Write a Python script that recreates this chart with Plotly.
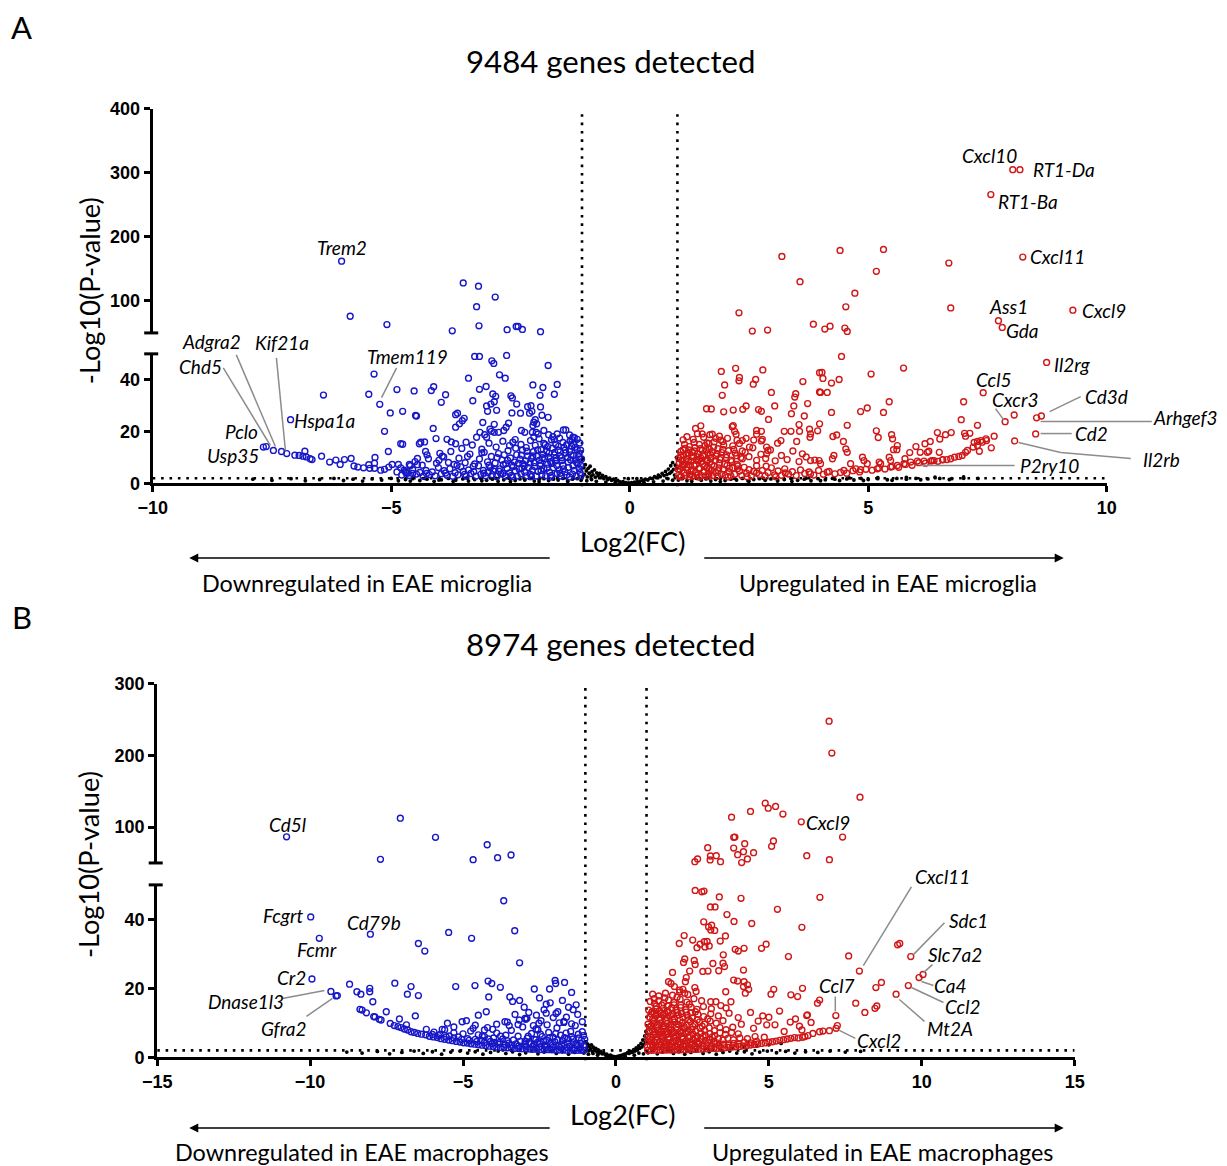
import plotly.graph_objects as go

# Layout positions below are given in pixels of the displayed page
# (1227x1166 view, which also holds the body margin around the figure).
VIEW_W, VIEW_H = 1227, 1166
PAD = 8
W, H = VIEW_W, VIEW_H
SX = (VIEW_W + 2 * PAD) / VIEW_W / 0.9908
SY = (VIEW_H + 2 * PAD) / VIEW_H
X_SHIFT = 8.2


def px(v):
    return ((v - X_SHIFT) * SX - PAD) / W


def py(v):
    return 1 - (v * SY - PAD) / H


BLUE = "#1717c8"
RED = "#d01616"
GREY = "#8c8c8c"
TXT = "Lato, 'Open Sans', sans-serif"
NUM = "'Liberation Sans', Arial, sans-serif"

# ---------------- Panel A: microglia (log2FC, -log10 p) ----------------
A_DOWN_UPPER = [(-6.04, 162), (-5.86, 76), (-5.09, 63), (-3.49, 128), (-3.17, 123), (-2.82, 106),
                (-3.21, 91), (-3.16, 61), (-3.72, 53.3), (-2.57, 55), (-2.38, 60), (-2.34, 60),
                (-2.25, 55.5), (-1.87, 52)]
A_DOWN_SPARSE = [(-5.36, 42.2), (-6.42, 34.1), (-5.47, 34.4), (-4.88, 36.2), (-4.52, 35.7), (-5.24, 30.5),
                 (-5.02, 27.2), (-4.76, 27.8), (-4.47, 26.0), (-7.11, 24.6), (-5.14, 20.1), (-4.76, 15.1),
                 (-4.41, 15.3), (-5.06, 12.3), (-5.34, 10.0), (-3.25, 49.0), (-3.15, 49.0), (-2.58, 49.4),
                 (-2.89, 47.3), (-2.85, 46.3), (-1.71, 45.5), (-2.73, 41.9), (-2.61, 40.6), (-3.38, 40.6),
                 (-4.16, 35.8), (-4.11, 37.3), (-3.86, 34.2), (-3.95, 31.3), (-3.01, 37.4), (-3.15, 36.3),
                 (-2.03, 38.0), (-1.82, 37.0), (-1.52, 38.2), (-1.58, 34.4), (-1.88, 34.0), (-2.49, 33.8),
                 (-2.46, 33.0), (-3.29, 31.9), (-2.87, 34.5), (-2.81, 33.6), (-2.84, 31.5), (-2.91, 30.6),
                 (-3.00, 29.9), (-2.37, 30.6), (-2.14, 29.6), (-2.07, 30.0), (-1.87, 29.5), (-2.98, 27.8),
                 (-2.79, 28.2), (-2.47, 27.2), (-2.29, 27.1), (-2.10, 27.1), (-2.05, 27.8), (-4.49, 26.2),
                 (-3.65, 26.5), (-3.61, 27.1), (-3.47, 25.1), (-3.51, 24.2), (-3.57, 23.0), (-3.65, 21.7),
                 (-1.84, 26.3), (-1.71, 25.5), (-1.98, 24.6), (-2.01, 23.6), (-1.95, 23.0), (-2.03, 22.3),
                 (-3.08, 23.5), (-2.84, 22.8), (-2.54, 23.2), (-2.59, 21.7), (-4.12, 21.2), (-4.06, 17.3),
                 (-2.93, 20.9), (-2.90, 20.1), (-2.84, 19.7), (-2.75, 19.7), (-2.64, 20.4), (-3.14, 19.7),
                 (-3.04, 18.8), (-3.00, 17.8), (-3.21, 17.8), (-2.27, 20.4), (-2.20, 19.7), (-2.04, 19.7),
                 (-1.96, 19.7), (-1.92, 19.1), (-1.80, 20.4), (-1.70, 18.8), (-1.58, 16.9), (-1.52, 19.1),
                 (-1.39, 20.6), (-1.34, 20.6), (-1.26, 18.7), (-1.19, 17.8), (-1.16, 17.6), (-4.38, 15.9),
                 (-4.30, 16.0), (-3.83, 17.0), (-3.74, 16.0), (-3.65, 15.3), (-3.43, 15.9), (-4.28, 12.3),
                 (-3.98, 11.6), (-3.93, 10.5), (-4.80, 15.3)]
A_DOWN_EDGE = [(-7.68, 14.0), (-7.62, 14.2), (-7.47, 12.7), (-7.30, 12.3), (-7.19, 11.5), (-7.02, 10.9),
               (-6.93, 10.8), (-6.85, 10.5), (-6.78, 10.2), (-6.81, 12.4), (-6.70, 9.5), (-6.66, 9.2),
               (-6.46, 10.5), (-6.29, 8.2), (-6.16, 9.0), (-6.07, 7.3), (-5.98, 9.2), (-5.84, 9.6),
               (-5.78, 6.7), (-5.70, 6.3), (-5.58, 6.0), (-5.47, 7.2), (-5.35, 7.8), (-5.45, 5.8),
               (-5.35, 5.8), (-5.22, 5.1), (-5.14, 5.4), (-5.05, 6.3), (-4.98, 7.3), (-4.85, 7.3),
               (-4.80, 6.0), (-4.88, 4.4), (-4.73, 5.1), (-4.62, 7.3), (-4.45, 7.2), (-4.69, 4.1),
               (-4.55, 3.8)]
A_DOWN_DENSE = [(-4.78, 3.2), (-4.70, 4.6), (-4.62, 3.0), (-4.55, 5.3), (-4.47, 3.6), (-4.40, 4.2),
                (-4.33, 2.8), (-4.27, 5.0), (-4.20, 3.4), (-4.14, 4.4), (-4.08, 2.9), (-4.01, 6.1),
                (-3.95, 3.7), (-3.89, 4.9), (-3.83, 3.1), (-3.77, 5.6), (-3.71, 2.7), (-3.66, 4.1),
                (-3.60, 3.3), (-3.54, 6.4), (-3.49, 4.6), (-3.43, 2.9), (-3.38, 5.2), (-3.33, 3.8),
                (-3.27, 4.5), (-3.22, 2.8), (-3.17, 6.8), (-3.12, 3.5), (-3.07, 5.0), (-3.02, 2.9),
                (-2.97, 4.2), (-2.92, 6.0), (-2.88, 3.3), (-2.83, 5.4), (-2.79, 2.8), (-2.74, 4.7),
                (-2.70, 3.6), (-2.65, 7.2), (-2.61, 2.9), (-2.57, 5.8), (-2.52, 4.0), (-2.48, 3.1),
                (-2.44, 6.5), (-2.40, 4.8), (-2.36, 2.8), (-2.32, 5.5), (-2.28, 3.7), (-2.24, 7.6),
                (-2.20, 4.3), (-2.16, 2.9), (-2.12, 6.1), (-2.08, 3.5), (-2.04, 5.1), (-2.00, 8.0),
                (-1.96, 2.8), (-1.92, 4.6), (-1.88, 6.8), (-1.84, 3.4), (-1.80, 5.6), (-1.76, 2.9),
                (-1.72, 7.4), (-1.68, 4.2), (-1.64, 3.1), (-1.60, 6.0), (-1.56, 8.6), (-1.52, 3.8),
                (-1.48, 5.2), (-1.44, 2.8), (-1.40, 7.0), (-1.36, 4.4), (-1.32, 3.2), (-1.28, 6.2),
                (-1.24, 9.1), (-1.20, 3.6), (-1.16, 5.0), (-1.12, 2.8), (-1.08, 7.7), (-1.04, 4.1),
                (-1.02, 3.0), (-4.50, 8.4), (-4.35, 7.0), (-4.22, 9.5), (-4.05, 7.8), (-3.90, 10.2),
                (-3.80, 8.1), (-3.68, 7.3), (-3.58, 9.7), (-3.45, 8.0), (-3.35, 11.3), (-3.25, 7.5),
                (-3.15, 9.4), (-3.05, 12.0), (-2.98, 8.3), (-2.90, 10.4), (-2.82, 7.9), (-2.75, 11.5),
                (-2.68, 9.0), (-2.60, 7.6), (-2.55, 12.6), (-2.50, 9.8), (-2.42, 8.2), (-2.37, 11.0),
                (-2.30, 9.3), (-2.25, 12.9), (-2.18, 8.7), (-2.14, 10.6), (-2.06, 9.6), (-2.02, 12.2),
                (-1.95, 10.5), (-1.90, 8.9), (-1.86, 13.0), (-1.82, 11.2), (-1.78, 9.6), (-1.74, 12.4),
                (-1.70, 10.1), (-1.66, 8.4), (-1.62, 13.6), (-1.58, 11.0), (-1.54, 9.9), (-1.50, 12.8),
                (-1.46, 10.6), (-1.42, 8.8), (-1.38, 13.9), (-1.34, 11.7), (-1.30, 10.0), (-1.26, 12.3),
                (-1.22, 14.4), (-1.18, 10.8), (-1.14, 9.1), (-1.10, 13.0), (-1.06, 11.5), (-1.03, 12.8),
                (-3.52, 13.5), (-3.30, 14.8), (-3.10, 13.2), (-2.95, 15.5), (-2.80, 14.0), (-2.66, 16.3),
                (-2.52, 14.6), (-2.40, 16.9), (-2.28, 15.0), (-2.17, 13.8), (-2.08, 16.5), (-1.98, 14.7),
                (-1.90, 17.2), (-1.80, 15.4), (-1.72, 14.2), (-1.64, 16.8), (-1.55, 15.0), (-1.47, 17.5),
                (-1.40, 15.8), (-1.32, 14.9), (-1.25, 16.4), (-1.18, 15.1), (-1.10, 17.0), (-1.05, 15.6),
                (-4.60, 6.8), (-4.45, 9.6), (-4.25, 11.0), (-4.00, 8.9), (-3.75, 12.3), (-3.62, 6.9),
                (-3.40, 10.4), (-3.28, 6.6), (-3.10, 11.8), (-2.95, 7.0), (-2.46, 2.6), (-2.26, 5.9),
                (-2.06, 2.6), (-1.86, 5.0), (-1.66, 2.5), (-1.46, 3.9), (-1.26, 2.5), (-1.06, 5.6),
                (-2.66, 3.8), (-2.86, 4.8), (-3.06, 3.9), (-3.46, 3.5), (-3.86, 4.0), (-4.26, 3.8),
                (-4.66, 3.9), (-2.78, 9.9), (-2.72, 5.6), (-2.63, 11.0), (-2.56, 8.9), (-2.47, 7.0),
                (-2.39, 13.6), (-2.33, 7.8), (-2.27, 10.9), (-2.21, 6.8), (-2.15, 12.4), (-2.09, 7.9),
                (-2.03, 10.6), (-1.99, 6.5), (-1.93, 12.9), (-1.87, 7.7), (-1.83, 9.9), (-1.77, 14.9),
                (-1.73, 5.9), (-1.69, 11.7), (-1.63, 7.7), (-1.57, 12.0), (-1.53, 6.9), (-1.49, 14.3),
                (-1.43, 9.9), (-1.39, 5.6), (-1.35, 12.9), (-1.29, 8.2), (-1.23, 11.0), (-1.19, 6.8),
                (-1.15, 13.9), (-1.11, 8.0), (-1.07, 10.3), (-1.03, 7.0), (-1.01, 9.4), (-1.21, 16.9),
                (-1.61, 18.0), (-2.01, 17.9), (-2.45, 15.9)]

A_UP_UPPER = [(3.19, 169.5), (3.57, 130), (2.29, 81.3), (3.85, 63.7), (2.57, 52.9), (2.89, 54.4),
              (8.03, 304.8), (8.18, 304.8), (7.57, 266), (8.24, 168.4), (7.73, 69), (7.81, 58.5),
              (9.29, 85.5), (4.41, 178.8), (5.32, 180.4), (5.17, 146.1), (4.72, 112), (4.53, 90.7),
              (6.69, 159), (6.73, 89), (4.09, 56), (4.20, 60.6), (4.51, 57.5), (4.56, 52.3)]
A_UP_SPARSE = [(1.92, 43.2), (2.22, 44.4), (2.30, 40.9), (2.29, 39.6), (2.79, 43.8), (2.64, 40.1),
               (2.59, 38.3), (1.99, 38.0), (1.94, 34.0), (2.97, 35.1), (3.63, 39.3), (3.48, 34.6),
               (3.46, 33.3), (3.44, 29.9), (3.98, 42.7), (3.98, 35.3), (3.04, 29.9), (3.73, 30.8),
               (1.61, 28.8), (1.71, 28.7), (1.97, 27.6), (2.17, 28.3), (2.37, 28.6), (2.44, 29.9),
               (2.70, 28.5), (2.76, 27.8), (2.91, 24.7), (3.39, 26.9), (3.66, 26.0), (3.55, 22.7),
               (3.77, 20.9), (3.79, 19.1), (3.62, 11.4), (3.78, 17.8), (3.94, 20.3), (3.98, 23.0),
               (3.24, 20.1), (3.38, 20.1), (3.56, 20.1), (3.50, 16.2), (3.17, 16.5), (3.10, 15.5),
               (2.87, 14.0), (2.90, 12.7), (2.87, 11.4), (2.76, 20.1), (2.66, 20.4), (2.66, 19.0),
               (2.60, 16.7), (2.76, 16.4), (2.78, 17.0), (2.44, 17.4), (2.23, 19.0), (2.16, 14.5),
               (2.36, 16.5), (2.51, 14.0), (2.36, 12.5), (2.15, 21.9), (2.17, 22.3), (2.20, 20.1),
               (1.38, 21.2), (1.49, 22.2), (1.52, 19.1), (1.73, 19.0), (1.80, 17.4), (1.91, 16.7),
               (1.66, 15.4), (8.74, 46.7), (7.41, 35.0), (4.44, 49.0), (5.74, 44.5), (5.06, 42.2),
               (4.03, 42.8), (4.05, 40.5), (4.23, 38.7), (4.39, 40.1), (4.00, 35.1), (4.14, 35.1),
               (7.00, 31.5), (7.87, 23.8), (8.06, 26.4), (8.53, 25.3), (8.63, 26.0), (8.51, 19.1),
               (8.07, 16.4), (4.23, 27.4), (4.84, 27.7), (4.98, 29.1), (5.32, 27.4), (5.44, 31.5),
               (6.95, 24.6), (4.56, 22.4), (7.29, 22.4), (4.26, 18.1), (4.34, 18.7), (4.48, 16.2),
               (5.17, 20.3), (5.21, 17.7), (5.49, 18.8), (5.51, 17.2), (6.45, 19.6), (6.62, 18.8),
               (6.74, 19.6), (7.02, 19.3), (7.13, 19.3), (7.04, 18.2), (7.64, 18.2), (7.47, 17.2),
               (7.36, 16.5), (7.29, 16.2), (7.22, 15.8), (7.58, 13.7), (7.33, 12.4), (6.00, 14.2),
               (6.19, 15.3), (6.30, 16.2), (6.50, 17.1), (5.61, 14.6), (5.53, 13.0), (5.60, 13.0),
               (5.87, 11.9), (5.77, 9.5), (6.09, 12.0), (6.24, 12.0), (6.27, 12.4), (6.49, 12.0),
               (6.56, 9.2), (6.65, 9.2), (6.73, 9.5), (6.81, 10.1), (6.90, 10.4), (6.97, 10.8),
               (7.04, 12.0), (7.08, 12.7), (7.20, 14.0), (7.29, 14.6), (7.39, 15.9), (7.48, 16.5),
               (5.47, 6.3), (5.61, 6.9), (5.75, 7.6), (5.89, 8.2), (6.03, 8.6), (6.17, 8.6),
               (6.31, 8.6), (6.38, 8.8), (6.56, 9.1), (4.49, 5.0), (4.84, 5.3), (5.19, 5.6),
               (3.79, 3.7), (4.14, 4.3), (3.79, 8.8), (3.97, 8.8), (4.00, 7.6), (4.25, 9.5),
               (4.28, 10.8), (4.53, 13.3), (4.56, 12.0), (4.63, 7.6), (4.88, 10.1), (4.91, 8.8),
               (5.23, 8.2), (5.26, 7.6), (5.44, 10.1), (5.47, 8.8), (4.98, 7.6), (4.74, 5.6)]
A_UP_DENSE = [(1.02, 3.0), (1.05, 5.4), (1.08, 2.8), (1.11, 7.1), (1.14, 4.0), (1.17, 3.1), (1.20, 6.2),
              (1.23, 8.5), (1.26, 3.5), (1.29, 5.0), (1.32, 2.8), (1.35, 6.8), (1.38, 4.3), (1.41, 3.2),
              (1.44, 9.0), (1.47, 5.7), (1.50, 3.0), (1.53, 7.4), (1.56, 4.6), (1.59, 2.9), (1.62, 6.0),
              (1.65, 3.8), (1.68, 8.2), (1.71, 5.1), (1.74, 3.0), (1.77, 6.6), (1.80, 4.2), (1.84, 2.8),
              (1.88, 7.8), (1.92, 3.6), (1.96, 5.5), (2.00, 3.0), (2.04, 6.9), (2.08, 4.4), (2.12, 2.9),
              (2.16, 5.9), (2.20, 3.5), (2.25, 7.3), (2.30, 4.8), (2.35, 3.0), (2.40, 6.2), (2.45, 3.9),
              (2.50, 5.3), (2.55, 2.9), (2.60, 4.6), (2.66, 6.8), (2.72, 3.4), (2.78, 5.0), (2.84, 3.0),
              (2.90, 4.2), (2.97, 6.0), (3.04, 3.3), (3.11, 4.8), (3.18, 3.1), (3.25, 5.6), (3.33, 3.6),
              (3.41, 4.5), (3.49, 3.0), (3.58, 5.2), (3.67, 3.8), (3.76, 4.4), (3.86, 3.2), (3.96, 5.0),
              (4.06, 3.5), (4.18, 4.6), (4.30, 3.7), (4.42, 4.2), (4.55, 3.9), (4.68, 4.9), (4.82, 4.4),
              (4.95, 5.4), (5.08, 5.1), (5.22, 5.9), (5.35, 5.5), (5.50, 6.5), (5.64, 6.2), (5.78, 7.3),
              (5.92, 7.0), (6.06, 8.0), (6.20, 7.8), (6.34, 8.8), (6.46, 8.5),
              (1.03, 9.6), (1.07, 12.3), (1.10, 8.8), (1.13, 10.8), (1.16, 13.5), (1.19, 9.4),
              (1.22, 11.6), (1.25, 14.2), (1.28, 8.6), (1.31, 12.0), (1.34, 10.1), (1.37, 13.8),
              (1.40, 8.9), (1.43, 11.4), (1.46, 15.0), (1.49, 9.8), (1.52, 12.7), (1.55, 10.4),
              (1.58, 14.6), (1.61, 8.7), (1.64, 11.8), (1.67, 13.2), (1.70, 9.7), (1.73, 12.2),
              (1.77, 16.0), (1.81, 10.6), (1.85, 13.4), (1.89, 9.2), (1.93, 11.9), (1.97, 14.8),
              (2.02, 10.0), (2.07, 12.6), (2.12, 9.0), (2.18, 13.1), (2.24, 10.7), (2.30, 15.4),
              (2.36, 9.5), (2.42, 12.0), (2.50, 10.3), (2.58, 13.7), (2.66, 8.9), (2.75, 11.2),
              (2.85, 9.6), (2.95, 12.9), (3.05, 8.7), (3.18, 10.8), (3.30, 9.2), (3.42, 12.5),
              (3.55, 8.4), (3.70, 10.2), (3.88, 9.0), (1.12, 16.8), (1.20, 18.0), (1.33, 17.0),
              (1.42, 19.2), (1.55, 17.8), (1.68, 18.8), (1.88, 18.2), (2.05, 17.4), (2.25, 16.6),
              (1.06, 2.5), (1.26, 2.6), (1.46, 2.4), (1.66, 2.6), (1.86, 4.9), (2.06, 2.5),
              (2.26, 5.6), (2.46, 2.6), (2.66, 4.0), (2.86, 6.6), (3.06, 2.6), (3.26, 4.0),
              (1.01, 5.5), (1.04, 8.0), (1.07, 10.9), (1.09, 6.4), (1.12, 13.0), (1.15, 7.5),
              (1.18, 11.3), (1.21, 5.1), (1.24, 12.9), (1.27, 7.1), (1.30, 10.7), (1.33, 4.7),
              (1.36, 12.5), (1.39, 7.3), (1.42, 10.2), (1.45, 5.9), (1.48, 13.4), (1.51, 8.5),
              (1.54, 11.0), (1.57, 6.5), (1.60, 13.0), (1.63, 9.0), (1.66, 5.5), (1.69, 11.2),
              (1.72, 7.2), (1.76, 14.0), (1.79, 8.8), (1.83, 11.5), (1.87, 6.0), (1.91, 10.0),
              (1.95, 13.1), (1.99, 7.4), (2.03, 11.0), (2.09, 5.8), (2.14, 8.4), (2.21, 11.7),
              (2.27, 6.7), (2.33, 10.0), (1.35, 15.8), (1.62, 15.6), (1.95, 16.2), (1.15, 15.0)]

A_NS = [(-0.98, 9.5), (-0.96, 6.0), (-0.95, 3.5), (-0.93, 7.2), (-0.91, 4.8), (-0.89, 2.5), (-0.87, 5.8),
        (-0.85, 3.9), (-0.83, 6.6), (-0.81, 2.8), (-0.79, 4.5), (-0.77, 3.3), (-0.74, 5.2), (-0.72, 2.4),
        (-0.69, 4.0), (-0.66, 3.0), (-0.63, 3.8), (-0.60, 2.2), (-0.57, 3.1), (-0.54, 1.8), (-0.50, 2.6),
        (-0.46, 1.5), (-0.42, 2.0), (-0.38, 1.2), (-0.34, 1.6), (-0.30, 0.9), (-0.25, 1.1), (-0.20, 0.6),
        (-0.14, 0.7), (-0.08, 0.3), (-0.02, 0.2), (0.04, 0.3), (0.10, 0.5), (0.16, 0.7), (0.22, 0.9),
        (0.28, 1.2), (0.33, 1.6), (0.38, 1.3), (0.43, 2.0), (0.48, 1.8), (0.52, 2.6), (0.56, 2.2),
        (0.60, 3.2), (0.64, 2.6), (0.68, 3.8), (0.72, 3.0), (0.75, 4.6), (0.78, 3.4), (0.81, 5.5),
        (0.84, 3.9), (0.86, 6.8), (0.88, 4.5), (0.90, 8.0), (0.92, 5.4), (0.94, 3.2), (0.96, 7.0),
        (0.98, 10.0), (0.99, 5.9), (-0.9, 1.0), (-0.7, 0.8), (-0.5, 0.5), (-0.3, 0.4), (0.3, 0.4),
        (0.5, 0.6), (0.7, 0.9), (0.9, 1.2), (-0.8, 1.5), (0.8, 1.8), (0.2, 0.2), (-0.2, 0.25),
        (-0.03, 1.8), (0.15, 1.8),
        (-7.9, 1.6), (-7.5, 1.2), (-7.1, 1.8), (-6.8, 1.0), (-6.5, 1.5), (-6.2, 1.9), (-6.0, 1.1),
        (-5.8, 1.6), (-5.6, 0.9), (-5.4, 1.7), (-5.2, 1.3), (-5.0, 1.9), (-4.85, 1.0), (-4.7, 1.5),
        (-4.55, 1.8), (-4.4, 1.1), (-4.25, 1.6), (-4.1, 0.8), (-3.95, 1.4), (-3.8, 1.9), (-3.65, 1.2),
        (-3.5, 1.7), (-3.38, 0.9), (-3.25, 1.5), (-3.12, 1.9), (-3.0, 1.2), (-2.88, 1.6), (-2.76, 0.8),
        (-2.64, 1.4), (-2.52, 1.9), (-2.4, 1.1), (-2.3, 1.7), (-2.2, 1.3), (-2.1, 1.9), (-2.0, 0.9),
        (-1.9, 1.5), (-1.8, 1.8), (-1.7, 1.1), (-1.6, 1.6), (-1.5, 1.3), (-1.4, 1.9), (-1.3, 1.0),
        (-1.2, 1.6), (-1.1, 1.8), (-1.02, 1.2), (1.02, 1.3), (1.1, 1.8), (1.2, 1.0), (1.3, 1.6),
        (1.4, 1.9), (1.5, 1.2), (1.6, 1.7), (1.7, 0.9), (1.8, 1.5), (1.9, 1.9), (2.0, 1.1),
        (2.12, 1.6), (2.24, 1.3), (2.36, 1.9), (2.48, 1.0), (2.6, 1.5), (2.72, 1.8), (2.84, 1.2),
        (2.96, 1.7), (3.1, 0.9), (3.24, 1.5), (3.38, 1.9), (3.52, 1.2), (3.66, 1.6), (3.8, 1.0),
        (3.95, 1.8), (4.1, 1.4), (4.25, 1.9), (4.4, 1.1), (4.55, 1.7), (4.7, 1.3), (4.85, 1.9),
        (5.0, 1.5), (5.2, 1.8), (5.4, 1.4), (5.6, 1.9), (5.8, 1.6), (6.0, 1.9), (6.25, 1.7),
        (6.5, 1.9), (6.75, 1.8), (7.0, 1.95), (-4.6, 0.9), (-4.3, 1.9), (-4.0, 1.3), (-3.7, 0.8),
        (-3.4, 2.0), (-3.1, 1.0), (-2.8, 1.9), (-2.5, 0.7), (-2.2, 1.5), (-1.9, 0.6), (-1.6, 1.9),
        (-1.3, 0.7), (1.3, 0.8), (1.6, 2.0), (1.9, 0.7), (2.2, 1.9), (2.5, 0.8), (2.8, 2.0),
        (3.1, 1.3), (3.4, 0.8), (3.7, 2.0), (4.0, 1.0), (4.3, 1.6), (4.6, 2.1), (4.9, 1.1),
        (5.2, 2.2), (5.5, 1.2), (5.8, 2.3), (6.1, 1.4), (6.4, 2.4), (6.7, 1.5), (7.0, 2.5), (7.3, 1.9)]

# ---------------- Panel B: macrophages ----------------
B_DOWN_UPPER = [(-10.77, 86.5), (-7.05, 112.5), (-7.70, 55.1), (-5.90, 85.7), (-4.21, 75.4),
                (-4.67, 54.6), (-3.87, 57.4), (-3.43, 61.1)]
B_DOWN_SPARSE = [(-9.98, 40.7), (-9.70, 34.5), (-8.03, 35.7), (-9.94, 22.7), (-9.32, 19.1), (-9.15, 17.8),
                 (-9.11, 17.9), (-8.71, 21.2), (-8.47, 19.0), (-8.34, 18.3), (-8.05, 20.0), (-8.05, 19.0),
                 (-7.95, 16.1), (-8.37, 13.9), (-8.30, 13.7), (-8.16, 12.9), (-7.92, 11.8), (-7.88, 11.7),
                 (-7.74, 11.0), (-7.68, 10.8), (-7.51, 13.2), (-7.23, 21.5), (-7.08, 11.1), (-6.85, 9.4),
                 (-6.70, 20.5), (-6.82, 18.3), (-6.46, 17.9), (-6.56, 12.0), (-6.46, 33.0), (-3.67, 45.4),
                 (-5.47, 36.2), (-4.72, 34.5), (-3.31, 36.7), (-6.25, 30.8), (-3.15, 27.4), (-5.24, 20.5),
                 (-4.61, 20.8), (-4.18, 22.1), (-4.06, 21.4), (-3.78, 20.3), (-4.16, 17.5), (-3.47, 17.5),
                 (-3.38, 16.2), (-3.15, 16.5), (-2.67, 19.8), (-2.17, 19.8), (-1.99, 22.3), (-1.97, 21.4),
                 (-1.68, 21.7), (-2.28, 15.4), (-1.40, 13.8), (-2.28, 12.8), (-1.96, 12.7), (-1.70, 10.4),
                 (-1.70, 10.1), (-4.50, 12.2), (-4.24, 13.2), (-4.89, 10.6), (-5.03, 10.3), (-5.51, 9.9),
                 (-5.68, 8.1), (-4.67, 8.4), (-4.30, 7.9), (-4.03, 8.1), (-3.63, 10.3), (-3.49, 9.2),
                 (-3.16, 10.8), (-2.97, 11.3), (-2.91, 11.3), (-2.52, 9.9), (-2.61, 8.2), (-7.38, 9.8),
                 (-7.25, 9.2), (-7.13, 8.9), (-7.03, 8.6), (-6.92, 8.2), (-6.81, 7.9), (-6.70, 7.4),
                 (-6.59, 7.2), (-6.48, 6.9)]
B_DOWN_DENSE = [(-6.36, 6.7), (-6.22, 6.5), (-6.10, 6.1), (-5.97, 5.9), (-5.84, 5.7), (-5.72, 5.4),
                (-5.60, 5.2), (-5.47, 5.0), (-5.35, 4.8), (-5.22, 4.6), (-5.10, 4.4), (-4.98, 4.2),
                (-4.86, 4.1), (-4.74, 3.9), (-4.62, 3.8), (-4.50, 3.6), (-4.38, 3.5), (-4.26, 3.4),
                (-4.14, 3.2), (-4.02, 3.1), (-3.90, 3.0), (-3.78, 2.9), (-3.66, 2.85), (-3.54, 2.75),
                (-3.42, 2.7), (-3.30, 2.6), (-3.18, 2.55), (-3.06, 2.5), (-2.94, 2.45), (-2.82, 2.4),
                (-2.70, 2.35), (-2.58, 2.3), (-2.46, 2.25), (-2.34, 2.2), (-2.22, 2.2), (-2.10, 2.15),
                (-1.98, 2.1), (-1.86, 2.1), (-1.74, 2.1), (-1.62, 2.05), (-1.50, 2.05), (-1.38, 2.05),
                (-1.26, 2.0), (-1.14, 2.0), (-1.04, 2.0), (-6.00, 6.6), (-5.80, 6.3), (-5.55, 5.9),
                (-5.30, 5.6), (-5.05, 5.2), (-4.80, 4.9), (-4.55, 4.6), (-4.30, 4.3), (-4.05, 4.0),
                (-3.85, 3.8), (-3.62, 3.6), (-3.40, 3.5), (-3.18, 3.3), (-2.95, 3.2), (-2.72, 3.1),
                (-2.50, 3.0), (-2.28, 2.9), (-2.05, 2.9), (-1.82, 2.8), (-1.60, 2.8), (-1.38, 2.7),
                (-1.16, 2.7), (-6.20, 8.1), (-5.95, 7.3), (-5.75, 6.6), (-5.60, 8.0), (-5.45, 6.2),
                (-5.30, 7.1), (-5.15, 5.9), (-5.00, 6.8), (-4.85, 5.4), (-4.75, 7.6), (-4.60, 5.2),
                (-4.50, 6.5), (-4.40, 4.9), (-4.30, 6.0), (-4.20, 8.6), (-4.10, 4.6), (-4.00, 5.6),
                (-3.90, 7.0), (-3.80, 4.3), (-3.70, 5.3), (-3.60, 6.4), (-3.50, 4.1), (-3.42, 7.8),
                (-3.35, 5.0), (-3.27, 3.9), (-3.20, 6.1), (-3.12, 4.6), (-3.05, 8.8), (-2.98, 3.7),
                (-2.90, 5.5), (-2.83, 4.3), (-2.76, 6.9), (-2.69, 3.6), (-2.62, 5.1), (-2.55, 7.9),
                (-2.48, 4.0), (-2.41, 6.0), (-2.34, 3.4), (-2.27, 5.0), (-2.20, 7.2), (-2.13, 3.9),
                (-2.06, 5.8), (-2.00, 4.5), (-1.93, 8.5), (-1.87, 3.3), (-1.81, 6.4), (-1.75, 4.8),
                (-1.69, 3.6), (-1.63, 7.0), (-1.57, 5.4), (-1.51, 3.2), (-1.45, 6.0), (-1.39, 4.2),
                (-1.33, 9.2), (-1.27, 3.5), (-1.21, 5.6), (-1.15, 4.0), (-1.10, 7.4), (-1.05, 3.1),
                (-1.02, 5.2), (-3.90, 9.6), (-3.55, 10.2), (-3.20, 9.5), (-2.95, 11.0), (-2.70, 9.2),
                (-2.45, 10.6), (-2.25, 9.4), (-2.05, 11.5), (-1.85, 10.0), (-1.62, 11.6), (-1.45, 9.7),
                (-1.25, 12.4), (-1.10, 10.3), (-4.60, 9.3), (-5.30, 8.8), (-2.85, 13.0), (-2.60, 12.2),
                (-2.35, 13.8), (-1.90, 13.2), (-1.55, 14.5), (-3.30, 12.4), (-3.00, 14.5), (-2.15, 15.8),
                (-1.75, 16.5), (-1.30, 15.2), (-2.50, 17.2), (-1.45, 18.8),
                (-2.97, 4.6), (-2.87, 6.1), (-2.77, 3.9), (-2.67, 5.2), (-2.57, 4.3), (-2.47, 6.7),
                (-2.37, 4.7), (-2.27, 3.6), (-2.17, 5.7), (-2.07, 3.6), (-1.97, 6.9), (-1.90, 5.1),
                (-1.78, 3.7), (-1.68, 5.7), (-1.58, 4.1), (-1.48, 7.5), (-1.41, 5.3), (-1.31, 3.8),
                (-1.23, 6.7), (-1.13, 4.9), (-1.06, 6.3), (-3.57, 4.9), (-3.77, 6.1), (-3.97, 4.3),
                (-4.17, 5.3), (-4.37, 6.2)]

B_UP_UPPER = [(4.88, 133.3), (4.98, 126.4), (5.22, 128.8), (5.46, 118.1), (4.40, 121.8), (3.78, 113.9),
              (6.06, 107.4), (3.85, 85.7), (3.89, 86.1), (5.15, 80.6), (5.09, 73.2), (4.21, 76.8),
              (3.98, 61.5), (4.11, 50.5), (4.17, 65.7), (4.30, 55.6), (4.50, 64.3), (3.85, 70.8),
              (3.00, 71.3), (3.09, 59.7), (3.28, 60.1), (3.08, 54.2), (3.42, 51.8), (2.58, 51.8),
              (2.67, 55.6), (6.24, 60.1), (6.97, 247.6), (7.06, 203.2), (7.98, 141.7), (7.41, 86.1),
              (6.98, 54.6)]
B_UP_SPARSE = [(2.59, 48.4), (2.81, 48.0), (2.88, 48.2), (3.38, 46.5), (4.09, 46.1), (3.09, 43.6),
               (3.24, 43.6), (3.63, 41.4), (3.86, 39.4), (4.44, 38.8), (5.28, 42.9), (6.67, 46.4),
               (6.08, 37.7), (5.64, 29.2), (4.76, 31.6), (4.91, 32.8), (3.90, 31.3), (4.00, 30.8),
               (4.19, 31.6), (2.87, 39.3), (3.03, 37.8), (3.10, 36.9), (3.23, 36.8), (3.13, 38.3),
               (3.41, 33.7), (3.58, 35.2), (2.23, 35.3), (2.51, 34.0), (2.65, 31.8), (2.75, 32.8),
               (2.89, 33.5), (2.91, 32.0), (3.05, 32.3), (2.98, 33.6), (2.07, 33.0), (2.56, 28.1),
               (2.25, 28.5), (2.21, 27.5), (2.41, 25.0), (2.30, 23.1), (2.59, 26.9), (2.84, 24.9),
               (3.01, 25.0), (3.17, 27.2), (3.36, 25.1), (3.51, 29.7), (3.50, 27.3), (3.55, 26.3),
               (1.85, 24.6), (1.72, 21.9), (1.80, 21.4), (1.91, 20.5), (2.08, 19.5), (2.19, 19.7),
               (2.27, 21.9), (2.25, 18.6), (2.58, 20.2), (3.10, 16.1), (3.27, 16.1), (3.43, 15.0),
               (3.59, 19.0), (3.76, 16.1), (3.85, 22.4), (3.98, 22.1), (4.17, 25.3), (4.19, 21.9),
               (4.17, 20.5), (4.23, 18.6), (4.30, 21.0), (4.34, 19.7), (5.07, 18.3), (5.16, 19.7),
               (4.93, 9.4), (5.20, 9.4), (5.35, 13.4), (5.87, 11.1), (6.10, 20.0), (5.94, 17.6),
               (5.72, 18.1), (6.26, 12.3), (6.08, 7.9), (6.66, 16.6), (6.59, 15.7), (7.61, 29.4),
               (7.96, 25.0), (9.21, 32.6), (9.28, 33.0), (9.64, 29.2), (10.04, 24.0), (9.91, 23.1),
               (9.56, 20.8), (9.16, 18.3), (8.50, 20.2), (8.68, 21.7), (7.84, 15.7), (8.14, 13.0),
               (8.47, 14.2), (8.53, 14.9), (7.19, 12.1), (6.24, 12.1), (6.38, 10.1), (7.24, 9.2),
               (7.20, 8.4), (6.98, 7.7), (6.77, 7.6), (6.66, 7.4), (6.44, 6.9), (6.28, 6.3),
               (6.18, 6.0), (6.10, 5.8), (3.70, 12.8), (4.00, 11.5), (4.40, 13.0), (4.65, 10.5),
               (4.80, 12.0), (3.60, 14.3), (4.10, 9.6), (4.50, 8.4), (5.00, 11.6), (5.50, 7.5),
               (5.70, 10.2), (6.00, 9.0)]
B_UP_DENSE = [(1.04, 2.0), (1.16, 2.0), (1.28, 2.05), (1.40, 2.05), (1.52, 2.05), (1.64, 2.1), (1.76, 2.1),
              (1.88, 2.1), (2.00, 2.15), (2.12, 2.15), (2.24, 2.2), (2.36, 2.2), (2.48, 2.25), (2.60, 2.3),
              (2.72, 2.35), (2.84, 2.4), (2.96, 2.45), (3.08, 2.5), (3.20, 2.55), (3.32, 2.6), (3.44, 2.7),
              (3.56, 2.75), (3.68, 2.85), (3.80, 2.95), (3.92, 3.05), (4.04, 3.15), (4.16, 3.3),
              (4.28, 3.4), (4.40, 3.55), (4.52, 3.7), (4.64, 3.85), (4.76, 4.0), (4.88, 4.15),
              (5.00, 4.35), (5.12, 4.5), (5.24, 4.7), (5.36, 4.9), (5.48, 5.1), (5.60, 5.3),
              (5.72, 5.5), (5.84, 5.7), (5.96, 5.6),
              (1.03, 3.1), (1.12, 3.4), (1.21, 2.9), (1.30, 3.3), (1.39, 3.0), (1.48, 3.5), (1.57, 2.8),
              (1.66, 3.2), (1.75, 3.6), (1.84, 2.9), (1.93, 3.3), (2.02, 3.0), (2.11, 3.7), (2.20, 3.1),
              (2.30, 3.4), (2.40, 2.9), (2.50, 3.6), (2.60, 3.2), (2.72, 3.8), (2.84, 3.3), (2.97, 3.6),
              (3.10, 3.2), (3.24, 3.9), (3.38, 3.4), (3.52, 3.8), (3.68, 3.5), (3.85, 4.0), (4.02, 3.8),
              (4.20, 4.3), (4.40, 4.2), (4.60, 4.6),
              (1.06, 4.6), (1.15, 4.9), (1.25, 4.3), (1.35, 5.0), (1.45, 4.5), (1.55, 4.8), (1.65, 4.2),
              (1.75, 5.1), (1.86, 4.6), (1.97, 4.9), (2.08, 4.3), (2.19, 5.2), (2.30, 4.7), (2.42, 4.4),
              (2.54, 5.0), (2.66, 4.6), (2.79, 5.3), (2.92, 4.8), (3.06, 5.1), (3.20, 4.6), (3.35, 5.4),
              (3.50, 5.0), (3.66, 5.5), (3.84, 5.1), (4.05, 5.6), (4.30, 5.4), (4.55, 6.0), (4.85, 5.8),
              (1.04, 6.2), (1.13, 5.8), (1.22, 6.5), (1.32, 6.0), (1.42, 6.7), (1.52, 6.1), (1.62, 6.6),
              (1.72, 5.9), (1.83, 6.8), (1.94, 6.2), (2.05, 6.6), (2.16, 6.0), (2.28, 6.9), (2.40, 6.3),
              (2.52, 6.7), (2.65, 6.1), (2.78, 7.0), (2.92, 6.4), (3.07, 6.9), (3.23, 6.3), (3.40, 7.1),
              (3.58, 6.6), (3.78, 7.2), (4.00, 6.8),
              (1.08, 7.6), (1.18, 8.0), (1.28, 7.3), (1.38, 7.9), (1.48, 7.4), (1.58, 8.2), (1.68, 7.5),
              (1.79, 8.0), (1.90, 7.3), (2.01, 8.1), (2.12, 7.6), (2.24, 8.3), (2.36, 7.4), (2.48, 8.0),
              (2.61, 7.6), (2.75, 8.4), (2.90, 7.8), (3.05, 8.5), (3.22, 7.7), (3.40, 8.6), (3.60, 8.0),
              (3.82, 8.7),
              (1.05, 9.6), (1.15, 9.1), (1.25, 9.9), (1.35, 9.3), (1.46, 10.0), (1.57, 9.2), (1.68, 9.8),
              (1.80, 9.4), (1.92, 10.2), (2.04, 9.5), (2.17, 10.0), (2.30, 9.3), (2.44, 10.4), (2.58, 9.7),
              (2.73, 10.2), (2.90, 9.6), (3.08, 10.5), (3.28, 9.9), (3.50, 10.6),
              (1.10, 11.6), (1.20, 11.0), (1.31, 12.0), (1.42, 11.3), (1.54, 12.2), (1.66, 11.5),
              (1.78, 12.1), (1.91, 11.2), (2.04, 12.3), (2.18, 11.6), (2.33, 12.2), (2.50, 11.4),
              (2.68, 12.4), (2.87, 11.8), (3.10, 12.6), (3.35, 12.0),
              (1.07, 13.7), (1.18, 13.2), (1.30, 14.0), (1.42, 13.4), (1.55, 14.2), (1.68, 13.5),
              (1.82, 14.3), (1.96, 13.6), (2.12, 14.4), (2.28, 13.8), (2.46, 14.5), (2.65, 13.9),
              (2.86, 14.7), (3.12, 14.1),
              (1.12, 16.2), (1.26, 15.6), (1.40, 16.4), (1.56, 15.8), (1.72, 16.6), (1.90, 15.9),
              (2.10, 16.8), (2.32, 16.0), (2.55, 17.0), (2.80, 16.4),
              (1.20, 18.3), (1.40, 17.8), (1.62, 18.6), (1.85, 18.0), (2.08, 18.9), (2.35, 18.2),
              (2.62, 19.1),
              (1.09, 5.3), (1.19, 3.8), (1.29, 6.8), (1.41, 3.9), (1.50, 5.6), (1.61, 3.7), (1.70, 6.9),
              (1.80, 4.0), (1.91, 5.6), (2.02, 3.9), (2.13, 7.0), (2.25, 4.0), (2.36, 5.8), (2.47, 3.8),
              (2.60, 5.6), (2.70, 4.1), (2.85, 6.0), (3.00, 4.3), (3.15, 5.9), (3.30, 4.2), (1.10, 8.7),
              (1.23, 10.5), (1.33, 8.6), (1.44, 10.8), (1.53, 8.8), (1.63, 10.6), (1.74, 8.8),
              (1.86, 10.8), (1.98, 8.8), (2.10, 10.7), (2.23, 8.9), (2.38, 10.9), (2.52, 8.9),
              (2.66, 10.9), (2.82, 9.0), (3.00, 11.1), (1.15, 12.6), (1.26, 12.8), (1.37, 12.5),
              (1.48, 12.9), (1.60, 12.7), (1.72, 13.0), (1.86, 12.6), (2.00, 13.0), (2.14, 12.7),
              (2.30, 13.1), (2.45, 12.9), (2.60, 13.2), (1.32, 14.9), (1.50, 15.1), (1.69, 14.9),
              (1.90, 15.2), (2.12, 15.1), (2.40, 15.4), (1.25, 17.0), (1.60, 17.2), (2.00, 17.4)]

B_NS = [(-0.98, 4.5), (-0.95, 2.8), (-0.92, 3.8), (-0.89, 1.9), (-0.86, 3.2), (-0.83, 2.4), (-0.80, 3.6),
        (-0.77, 1.7), (-0.74, 2.9), (-0.70, 2.1), (-0.66, 2.6), (-0.62, 1.5), (-0.58, 2.1), (-0.54, 1.2),
        (-0.50, 1.7), (-0.45, 1.0), (-0.40, 1.3), (-0.35, 0.7), (-0.30, 0.9), (-0.24, 0.5), (-0.18, 0.6),
        (-0.12, 0.3), (-0.05, 0.2), (0.02, 0.15), (0.08, 0.3), (0.14, 0.45), (0.20, 0.6), (0.26, 0.8),
        (0.32, 1.0), (0.38, 1.3), (0.43, 1.1), (0.48, 1.7), (0.53, 1.4), (0.58, 2.2), (0.62, 1.8),
        (0.66, 2.7), (0.70, 2.2), (0.74, 3.3), (0.78, 2.6), (0.82, 4.0), (0.85, 3.0), (0.88, 5.0),
        (0.91, 3.6), (0.94, 6.2), (0.96, 4.3), (0.98, 7.5), (0.99, 5.3), (-0.6, 0.6), (-0.3, 0.3),
        (0.3, 0.3), (0.6, 0.6), (0.9, 1.0), (-0.9, 0.9), (0.75, 1.2), (-0.75, 1.1),
        (-8.8, 1.5), (-8.3, 1.2), (-7.8, 1.7), (-7.4, 1.0), (-7.0, 1.4), (-6.6, 1.8), (-6.3, 1.1),
        (-6.0, 1.6), (-5.7, 0.9), (-5.4, 1.5), (-5.1, 1.8), (-4.85, 1.2), (-4.6, 1.6), (-4.35, 0.9),
        (-4.1, 1.4), (-3.85, 1.8), (-3.6, 1.1), (-3.38, 1.6), (-3.15, 0.8), (-2.95, 1.3), (-2.75, 1.8),
        (-2.55, 1.0), (-2.35, 1.5), (-2.15, 1.8), (-1.95, 1.1), (-1.75, 1.6), (-1.55, 0.9), (-1.35, 1.4),
        (-1.18, 1.8), (-1.05, 1.2), (1.05, 1.3), (1.2, 1.8), (1.35, 1.0), (1.52, 1.5), (1.7, 1.8),
        (1.88, 1.1), (2.06, 1.6), (2.25, 0.9), (2.45, 1.4), (2.65, 1.8), (2.85, 1.1), (3.05, 1.6),
        (3.28, 0.9), (3.5, 1.4), (3.72, 1.8), (3.95, 1.2), (4.2, 1.6), (4.45, 1.0), (4.7, 1.5),
        (4.95, 1.8), (5.25, 1.3), (5.55, 1.7), (5.85, 1.2), (6.2, 1.6), (6.6, 1.4), (7.0, 1.8),
        (7.5, 1.5), (8.0, 1.7), (2.6, 2.2), (3.0, 2.5), (3.4, 2.3), (3.8, 2.7), (4.2, 2.9),
        (4.6, 3.2), (5.0, 3.6), (5.4, 4.0)]

BREAK = 50

fig = go.Figure()


def add_points(pts, color, hollow, xa_lo, ya_lo, xa_hi, ya_hi):
    lo = [p for p in pts if p[1] <= BREAK]
    hi = [p for p in pts if p[1] > BREAK]
    if hollow:
        marker = dict(size=5.9, symbol="circle-open", color=color, line=dict(width=1.4, color=color))
    else:
        marker = dict(size=3.8, symbol="circle", color=color, line=dict(width=0))
    for sub, xa, ya in ((lo, xa_lo, ya_lo), (hi, xa_hi, ya_hi)):
        if sub:
            fig.add_trace(go.Scatter(x=[p[0] for p in sub], y=[p[1] for p in sub], mode="markers",
                                     marker=marker, xaxis=xa, yaxis=ya, cliponaxis=False,
                                     showlegend=False, hoverinfo="skip"))


add_points(A_NS, "black", False, "x", "y", "x2", "y2")
add_points(A_DOWN_DENSE + A_DOWN_EDGE + A_DOWN_SPARSE + A_DOWN_UPPER, BLUE, True, "x", "y", "x2", "y2")
add_points(A_UP_DENSE + A_UP_SPARSE + A_UP_UPPER, RED, True, "x", "y", "x2", "y2")
add_points(B_NS, "black", False, "x3", "y3", "x4", "y4")
add_points(B_DOWN_DENSE + B_DOWN_SPARSE + B_DOWN_UPPER, BLUE, True, "x3", "y3", "x4", "y4")
add_points(B_UP_DENSE + B_UP_SPARSE + B_UP_UPPER, RED, True, "x3", "y3", "x4", "y4")

ax_style = dict(showline=True, linecolor="black", linewidth=3, ticks="outside", ticklen=6, tickwidth=2.5,
                tickcolor="black", showgrid=False, zeroline=False, fixedrange=True,
                tickfont=dict(family=NUM, size=18, color="black", weight="bold"))

A_X = [px(153.5), px(1106)]
B_X = [px(158), px(1074)]

fig.update_layout(
    width=W, height=H, margin=dict(l=0, r=0, t=0, b=0),
    paper_bgcolor="white", plot_bgcolor="rgba(0,0,0,0)", showlegend=False,
    xaxis=dict(domain=A_X, range=[-10, 10], tickvals=[-10, -5, 0, 5, 10], anchor="y", **ax_style),
    yaxis=dict(domain=[py(483), py(353)], range=[0, 50], tickvals=[0, 20, 40], anchor="x", **ax_style),
    xaxis2=dict(domain=A_X, range=[-10, 10], matches="x", anchor="y2", visible=False),
    yaxis2=dict(domain=[py(332), py(107)], range=[50, 400], tickvals=[100, 200, 300, 400], anchor="x2",
                **ax_style),
    xaxis3=dict(domain=B_X, range=[-15, 15], tickvals=[-15, -10, -5, 0, 5, 10, 15], anchor="y3", **ax_style),
    yaxis3=dict(domain=[py(1059), py(886)], range=[0, 50], tickvals=[0, 20, 40], anchor="x3", **ax_style),
    xaxis4=dict(domain=B_X, range=[-15, 15], matches="x3", anchor="y4", visible=False),
    yaxis4=dict(domain=[py(864), py(684)], range=[50, 300], tickvals=[100, 200, 300], anchor="x4",
                **ax_style),
)

DOT = dict(color="black", width=2.6, dash="2.6px,5.8px")
shapes = []
# significance cut-offs
for xa, ya, xr, top, bot in (("x", "y", 10, 107, 486), ("x3", "y3", 15, 684, 1062)):
    for xv in (-1, 1):
        shapes.append(dict(type="line", xref=xa, yref="paper", x0=xv, x1=xv, y0=py(bot), y1=py(top),
                           line=DOT, layer="below"))
    shapes.append(dict(type="line", xref=xa, yref=ya, x0=-xr, x1=xr, y0=2, y1=2, line=DOT, layer="below"))
# caps at the axis break
for xl, yv in ((152, 353), (152, 332), (156.5, 886), (156.5, 864)):
    shapes.append(dict(type="line", xref="paper", yref="paper", x0=px(xl - 7), x1=px(xl + 7),
                       y0=py(yv), y1=py(yv), line=dict(color="black", width=3)))

# label leader lines (pixel positions)
LEADERS = [
    [(237, 354), (276, 446)], [(224, 367), (271, 445)], [(277, 357), (286, 450)], [(397, 367), (382, 397)],
    [(995, 408), (1003, 419)], [(1080, 396), (1049, 411)], [(1151, 421), (1040, 421)],
    [(1071, 433), (1040, 433)], [(1018, 442), (1060, 452), (1130, 458)], [(1014, 465), (920, 465)],
    [(283, 1000), (325, 992)], [(307, 1018), (333, 1000)], [(911, 888), (863, 967)],
    [(944, 924), (913, 956)], [(932, 966), (923, 974)], [(933, 987), (921, 983)],
    [(943, 1004), (911, 989)], [(924, 1023), (899, 1001)], [(835, 998), (835, 1013)],
    [(855, 1040), (839, 1032)],
]
for seg in LEADERS:
    for (x0, y0), (x1, y1) in zip(seg[:-1], seg[1:]):
        shapes.append(dict(type="line", xref="paper", yref="paper", x0=px(x0), x1=px(x1), y0=py(y0),
                           y1=py(y1), line=dict(color=GREY, width=1.5)))
fig.update_layout(shapes=shapes)

GENE_LABELS = [
    ("Trem2", 342, 246), ("Adgra2", 212, 341), ("Chd5", 201, 366), ("Kif21a", 283, 342),
    ("Tmem119", 408, 356), ("Hspa1a", 325, 420), ("Pclo", 242, 431), ("Usp35", 234, 455),
    ("Cxcl10", 989, 154), ("RT1-Da", 1063, 168), ("RT1-Ba", 1027, 200), ("Cxcl11", 1057, 255),
    ("Ass1", 1008, 305), ("Gda", 1022, 330), ("Cxcl9", 1103, 309), ("Il2rg", 1072, 364),
    ("Ccl5", 993, 379), ("Cxcr3", 1014, 399), ("Cd3d", 1106, 396), ("Arhgef3", 1185, 417),
    ("Cd2", 1091, 433), ("Il2rb", 1161, 459), ("P2ry10", 1049, 465),
    ("Cd5l", 288, 825), ("Fcgrt", 284, 917), ("Fcmr", 318, 951), ("Cd79b", 374, 924), ("Cr2", 292, 979),
    ("Dnase1l3", 247, 1003), ("Gfra2", 284, 1030), ("Cxcl9", 828, 823), ("Cxcl11", 942, 878),
    ("Sdc1", 968, 922), ("Slc7a2", 955, 956), ("Ca4", 950, 987), ("Ccl2", 962, 1008),
    ("Mt2A", 950, 1030), ("Ccl7", 837, 987), ("Cxcl2", 879, 1042),
]

ann = []
for name, cx, cy in GENE_LABELS:
    ann.append(dict(text="<i>%s</i>" % name, x=px(cx), y=py(cy), xref="paper", yref="paper",
                    xanchor="center", yanchor="middle", showarrow=False,
                    font=dict(family=TXT, size=19, color="black")))


def text(t, cx, cy, size, angle=0):
    ann.append(dict(text=t, x=px(cx), y=py(cy), xref="paper", yref="paper", xanchor="center",
                    yanchor="middle", showarrow=False, textangle=angle,
                    font=dict(family=TXT, size=size, color="black")))


text("A", 23, 25, 31)
text("B", 23, 617, 31)
text("9484 genes detected", 611, 59, 31.2)
text("8974 genes detected", 611, 644, 31.2)
text("-Log10(P-value)", 90, 290, 27.2, -90)
text("-Log10(P-value)", 90, 866, 27.2, -90)
text("Log2(FC)", 633, 541, 27)
text("Log2(FC)", 623, 1116, 27)
text("Downregulated in EAE microglia", 367, 583, 23.4)
text("Upregulated in EAE microglia", 888, 583, 23.4)
text("Downregulated in EAE macrophages", 362, 1154, 23.4)
text("Upregulated in EAE macrophages", 882, 1154, 23.4)

for yv in (558, 1130):
    ann.append(dict(text="", x=px(190), y=py(yv), xref="paper", yref="paper", ax=(544 - 190) * SX, ay=0,
                    showarrow=True, arrowhead=2, arrowsize=1.2, arrowwidth=1.5, arrowcolor="black"))
    ann.append(dict(text="", x=px(1063), y=py(yv), xref="paper", yref="paper", ax=(710 - 1063) * SX, ay=0,
                    showarrow=True, arrowhead=2, arrowsize=1.2, arrowwidth=1.5, arrowcolor="black"))

fig.update_layout(annotations=ann)
fig.write_html("out.html")
